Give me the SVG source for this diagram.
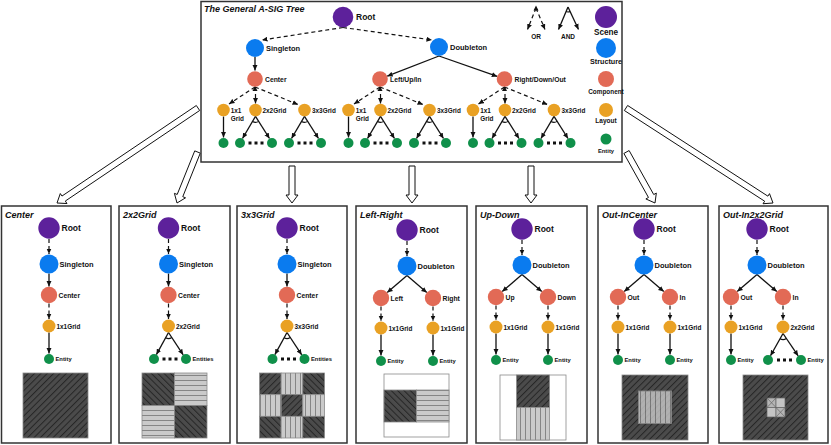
<svg xmlns="http://www.w3.org/2000/svg" width="831" height="445" viewBox="0 0 831 445">
<defs>
<style>
text{font-family:"Liberation Sans",Arial,sans-serif;font-weight:bold;fill:#111}
.t{font-style:italic;font-size:9px}
.box{fill:#fff;stroke:#333;stroke-width:1.5}
.ha{fill:#fff;stroke:#111;stroke-width:1}
.sc{fill:#5d219b}.st{fill:#0a7bef}.co{fill:#e26a56}.la{fill:#e9a124}.en{fill:#10904a}
.d{fill:none;stroke:#111;stroke-width:1.2;stroke-dasharray:4 3;marker-end:url(#ah)}
.s{fill:none;stroke:#111;stroke-width:1.3;marker-end:url(#ah)}
.arc{fill:none;stroke:#111;stroke-width:1.1}
.dots{stroke:#111;stroke-width:3;stroke-dasharray:3 3}
.f85{font-size:8.5px}.f75{font-size:7.5px}.f7{font-size:6.8px}.f65{font-size:6.4px}.f6{font-size:5.8px}
.mid{text-anchor:middle}
.tex{stroke:#8a8a8a;stroke-width:0.8}
</style>
<marker id="ah" viewBox="0 0 6 6" refX="6" refY="3" markerWidth="5.5" markerHeight="5.5" markerUnits="userSpaceOnUse" orient="auto"><path d="M0,0.3 L6,3 L0,5.7 z" fill="#111"/></marker>
<pattern id="pdR" width="4.5" height="4.5" patternUnits="userSpaceOnUse" patternTransform="rotate(45)"><rect width="4.5" height="4.5" fill="#4b4b4b"/><line x1="0.5" y1="0" x2="0.5" y2="4.5" stroke="#262626" stroke-width="1"/></pattern>
<pattern id="pdL" width="4.5" height="4.5" patternUnits="userSpaceOnUse" patternTransform="rotate(-45)"><rect width="4.5" height="4.5" fill="#4b4b4b"/><line x1="0.5" y1="0" x2="0.5" y2="4.5" stroke="#262626" stroke-width="1"/></pattern>
<pattern id="plH" width="6" height="5" patternUnits="userSpaceOnUse"><rect width="6" height="5" fill="#cacaca"/><line x1="0" y1="0.5" x2="6" y2="0.5" stroke="#858585" stroke-width="1"/></pattern>
<pattern id="plV" width="5" height="6" patternUnits="userSpaceOnUse"><rect width="5" height="6" fill="#cacaca"/><line x1="0.5" y1="0" x2="0.5" y2="6" stroke="#858585" stroke-width="1"/></pattern>
</defs>

<g id="hollow-arrows">
<polygon class="ha" points="199.67,110.49 65.32,201.04 66.99,203.54 57,203 60.31,193.56 61.98,196.06 196.33,105.51"/>
<polygon class="ha" points="200.28,153.12 182.77,196.70 185.55,197.82 177,203 174.42,193.34 177.20,194.46 194.72,150.88"/>
<polygon class="ha" points="289,166 289,195 286,195 292,203 298,195 295,195 295,166"/>
<polygon class="ha" points="409,166 409,195 406,195 412,203 418,195 415,195 415,166"/>
<polygon class="ha" points="528,166 528,195 525,195 531,203 537,195 534,195 534,166"/>
<polygon class="ha" points="629.12,150.54 653.72,194.55 656.34,193.09 655,203 645.86,198.95 648.48,197.48 623.88,153.46"/>
<polygon class="ha" points="627.62,105.48 767.89,196.16 769.51,193.63 773,203 763.03,203.73 764.65,201.21 624.38,110.53"/>
</g>

<g id="top-tree">
<rect class="box" x="201" y="1.5" width="421" height="160.5"/>
<text class="t" x="204" y="12">The General A-SIG Tree</text>

<g id="connectors-top">
<path class="d" d="M343,27.5 L262,40"/>
<path class="d" d="M343,27.5 L432,40"/>
<path class="s" d="M255,57 L255,70.5"/>
<path class="s" d="M439,56 L387.2,76.2"/>
<path class="s" d="M439,56 L497.3,76.4"/>
<g transform="translate(255,79)">
<path class="d" d="M0,8 L-26,25"/><path class="d" d="M0.5,8 L0.5,24.5"/><path class="d" d="M0,8 L43,25.5"/>
<polygon points="0,7 -2.5,12 2.5,12" fill="#111"/>
<path class="s" d="M-31.5,37.5 L-31.5,58.5"/>
<path class="s" d="M0.5,37.3 L-12.5,59.5"/><path class="s" d="M0.5,37.3 L14.5,59.5"/><path class="arc" d="M-2.5,42.5 A6,6 0 0 0 3.7,42.4"/>
<path class="dots" d="M-6.5,64 L8.5,64"/>
<path class="s" d="M49.5,37.3 L36.5,59.5"/><path class="s" d="M49.5,37.3 L63.5,59.5"/><path class="arc" d="M46.5,42.5 A6,6 0 0 0 52.7,42.4"/>
<path class="dots" d="M42.5,64 L57.5,64"/>
</g>
<g transform="translate(380,79)">
<path class="d" d="M0,8 L-26,25"/><path class="d" d="M0.5,8 L0.5,24.5"/><path class="d" d="M0,8 L43,25.5"/>
<polygon points="0,7 -2.5,12 2.5,12" fill="#111"/>
<path class="s" d="M-31.5,37.5 L-31.5,58.5"/>
<path class="s" d="M0.5,37.3 L-12.5,59.5"/><path class="s" d="M0.5,37.3 L14.5,59.5"/><path class="arc" d="M-2.5,42.5 A6,6 0 0 0 3.7,42.4"/>
<path class="dots" d="M-6.5,64 L8.5,64"/>
<path class="s" d="M49.5,37.3 L36.5,59.5"/><path class="s" d="M49.5,37.3 L63.5,59.5"/><path class="arc" d="M46.5,42.5 A6,6 0 0 0 52.7,42.4"/>
<path class="dots" d="M42.5,64 L57.5,64"/>
</g>
<g transform="translate(504.5,79)">
<path class="d" d="M0,8 L-26,25"/><path class="d" d="M0.5,8 L0.5,24.5"/><path class="d" d="M0,8 L43,25.5"/>
<polygon points="0,7 -2.5,12 2.5,12" fill="#111"/>
<path class="s" d="M-31.5,37.5 L-31.5,58.5"/>
<path class="s" d="M0.5,37.3 L-12.5,59.5"/><path class="s" d="M0.5,37.3 L14.5,59.5"/><path class="arc" d="M-2.5,42.5 A6,6 0 0 0 3.7,42.4"/>
<path class="dots" d="M-6.5,64 L8.5,64"/>
<path class="s" d="M49.5,37.3 L36.5,59.5"/><path class="s" d="M49.5,37.3 L63.5,59.5"/><path class="arc" d="M46.5,42.5 A6,6 0 0 0 52.7,42.4"/>
<path class="dots" d="M42.5,64 L57.5,64"/>
</g>
<path class="d" d="M536,8 L527.5,29.5"/><path class="d" d="M536,8 L545,29.5"/>
<polygon points="536,5.5 533.5,10.5 538.5,10.5" fill="#111"/>
<path class="s" d="M568,7 L558.5,29.5"/><path class="s" d="M568,7 L578.5,29.5"/>
<path class="arc" d="M566,11.6 A5,5 0 0 0 570.1,11.5"/>
</g>

<g id="n-root"><circle class="sc" cx="343" cy="17" r="10.3"/><text class="f85" x="356" y="20">Root</text></g>
<g id="n-singleton"><circle class="st" cx="255" cy="48" r="9"/><text class="f75" x="266" y="51">Singleton</text></g>
<g id="n-doubleton"><circle class="st" cx="439" cy="47" r="9"/><text class="f75" x="450" y="50">Doubleton</text></g>

<g transform="translate(255,79)">
<g id="n-center"><circle class="co" r="7.8"/><text class="f7" x="10" y="2.5">Center</text></g>
<g id="n-center-1x1"><circle class="la" cx="-31.5" cy="31" r="6.3"/><text class="f65" x="-24.3" y="33.5">1x1</text><text class="f65" x="-24.3" y="41.5">Grid</text></g>
<g id="n-center-2x2"><circle class="la" cx="0.5" cy="31" r="6.3"/><text class="f65" x="7.5" y="33.5">2x2Grid</text></g>
<g id="n-center-3x3"><circle class="la" cx="49.5" cy="31" r="6.3"/><text class="f65" x="57" y="33.5">3x3Grid</text></g>
<g id="n-center-entities"><circle class="en" cx="-31.5" cy="64" r="5"/><circle class="en" cx="-15" cy="64" r="5"/><circle class="en" cx="17" cy="64" r="5"/><circle class="en" cx="34" cy="64" r="5"/><circle class="en" cx="66" cy="64" r="5"/></g>
</g>
<g transform="translate(380,79)">
<g id="n-lui"><circle class="co" r="7.8"/><text class="f7" x="10" y="2.5">Left/Up/In</text></g>
<g id="n-lui-1x1"><circle class="la" cx="-31.5" cy="31" r="6.3"/><text class="f65" x="-24.3" y="33.5">1x1</text><text class="f65" x="-24.3" y="41.5">Grid</text></g>
<g id="n-lui-2x2"><circle class="la" cx="0.5" cy="31" r="6.3"/><text class="f65" x="7.5" y="33.5">2x2Grid</text></g>
<g id="n-lui-3x3"><circle class="la" cx="49.5" cy="31" r="6.3"/><text class="f65" x="57" y="33.5">3x3Grid</text></g>
<g id="n-lui-entities"><circle class="en" cx="-31.5" cy="64" r="5"/><circle class="en" cx="-15" cy="64" r="5"/><circle class="en" cx="17" cy="64" r="5"/><circle class="en" cx="34" cy="64" r="5"/><circle class="en" cx="66" cy="64" r="5"/></g>
</g>
<g transform="translate(504.5,79)">
<g id="n-rdo"><circle class="co" r="7.8"/><text class="f7" x="10" y="2.5">Right/Down/Out</text></g>
<g id="n-rdo-1x1"><circle class="la" cx="-31.5" cy="31" r="6.3"/><text class="f65" x="-24.3" y="33.5">1x1</text><text class="f65" x="-24.3" y="41.5">Grid</text></g>
<g id="n-rdo-2x2"><circle class="la" cx="0.5" cy="31" r="6.3"/><text class="f65" x="7.5" y="33.5">2x2Grid</text></g>
<g id="n-rdo-3x3"><circle class="la" cx="49.5" cy="31" r="6.3"/><text class="f65" x="57" y="33.5">3x3Grid</text></g>
<g id="n-rdo-entities"><circle class="en" cx="-31.5" cy="64" r="5"/><circle class="en" cx="-15" cy="64" r="5"/><circle class="en" cx="17" cy="64" r="5"/><circle class="en" cx="34" cy="64" r="5"/><circle class="en" cx="66" cy="64" r="5"/></g>
</g>

<g id="legend">
<text class="mid" style="font-size:6.5px" x="536" y="38.5">OR</text>
<text class="mid" style="font-size:6.5px" x="568" y="38.5">AND</text>
<circle class="sc" cx="606" cy="17" r="11"/><text class="mid" style="font-size:8.2px" x="606" y="34.5">Scene</text>
<circle class="st" cx="606" cy="48" r="10"/><text class="mid" style="font-size:7.2px" x="606" y="63.5">Structure</text>
<circle class="co" cx="606" cy="79" r="8"/><text class="mid" style="font-size:6.4px" x="606" y="93.5">Component</text>
<circle class="la" cx="606" cy="110" r="7"/><text class="mid" style="font-size:6.5px" x="606" y="122.5">Layout</text>
<circle class="en" cx="606" cy="139" r="5.5"/><text class="mid" style="font-size:5.8px" x="606" y="152.5">Entity</text>
</g>
</g>

<!-- Panel 1 -->
<g id="panel-center">
<rect class="box" x="1.5" y="206" width="109.5" height="237"/>
<text class="t" x="5" y="217.5">Center</text>
<g transform="translate(-1,206)">
<g id="p1-connectors"><path class="d" d="M50,33 L50,48"/><path class="s" d="M50,67.5 L50,80.5"/><path class="d" d="M50,97.5 L50,113"/><path class="s" d="M50,126.5 L50,147.5"/></g>
<g id="p1-root"><circle class="sc" cx="50" cy="22" r="10.7"/><text class="f85" x="62.5" y="25">Root</text></g>
<g id="p1-singleton"><circle class="st" cx="50" cy="58" r="9.5"/><text class="f75" x="60.5" y="61">Singleton</text></g>
<g id="p1-center"><circle class="co" cx="50" cy="89" r="8.2"/><text class="f7" x="59.5" y="91.5">Center</text></g>
<g id="p1-layout"><circle class="la" cx="50" cy="120" r="6.5"/><text class="f65" x="57.5" y="122.5">1x1Grid</text></g>
<g id="p1-entity"><circle class="en" cx="50" cy="153" r="5"/><text class="f6" x="56.5" y="155">Entity</text></g>
</g>
<rect class="tex" x="23" y="373" width="65" height="65" fill="url(#pdR)"/>
</g>

<!-- Panel 2 -->
<g id="panel-2x2">
<rect class="box" x="119" y="206" width="111" height="237"/>
<text class="t" x="123" y="217.5">2x2Grid</text>
<g transform="translate(118.5,206)">
<g id="p2-connectors"><path class="d" d="M50,33 L50,48"/><path class="s" d="M50,67.5 L50,80.5"/><path class="d" d="M50,97.5 L50,113"/>
<path class="s" d="M50,126.5 L37.9,148.6"/><path class="s" d="M50,126.5 L64.7,148.8"/><path class="arc" d="M47.1,131.8 A6,6 0 0 0 53.3,131.5"/><path class="dots" d="M44,153 L59,153"/></g>
<g id="p2-root"><circle class="sc" cx="50" cy="22" r="10.7"/><text class="f85" x="62.5" y="25">Root</text></g>
<g id="p2-singleton"><circle class="st" cx="50" cy="58" r="9.5"/><text class="f75" x="60.5" y="61">Singleton</text></g>
<g id="p2-center"><circle class="co" cx="50" cy="89" r="8.2"/><text class="f7" x="59.5" y="91.5">Center</text></g>
<g id="p2-layout"><circle class="la" cx="50" cy="120" r="6.5"/><text class="f65" x="57.5" y="122.5">2x2Grid</text></g>
<g id="p2-entities"><circle class="en" cx="35.5" cy="153" r="5"/><circle class="en" cx="67.5" cy="153" r="5"/><text class="f6" x="74" y="155">Entities</text></g>
</g>
<rect class="tex" x="142" y="373" width="32.5" height="32.5" fill="url(#pdL)"/>
<rect class="tex" x="174.5" y="373" width="32.5" height="32.5" fill="url(#plH)"/>
<rect class="tex" x="142" y="405.5" width="32.5" height="32.5" fill="url(#plH)"/>
<rect class="tex" x="174.5" y="405.5" width="32.5" height="32.5" fill="url(#pdL)"/>
</g>

<!-- Panel 3 -->
<g id="panel-3x3">
<rect class="box" x="237" y="206" width="110" height="237"/>
<text class="t" x="241" y="217.5">3x3Grid</text>
<g transform="translate(237,206)">
<g id="p3-connectors"><path class="d" d="M50,33 L50,48"/><path class="s" d="M50,67.5 L50,80.5"/><path class="d" d="M50,97.5 L50,113"/>
<path class="s" d="M50,126.5 L37.9,148.6"/><path class="s" d="M50,126.5 L64.7,148.8"/><path class="arc" d="M47.1,131.8 A6,6 0 0 0 53.3,131.5"/><path class="dots" d="M44,153 L59,153"/></g>
<g id="p3-root"><circle class="sc" cx="50" cy="22" r="10.7"/><text class="f85" x="62.5" y="25">Root</text></g>
<g id="p3-singleton"><circle class="st" cx="50" cy="58" r="9.5"/><text class="f75" x="60.5" y="61">Singleton</text></g>
<g id="p3-center"><circle class="co" cx="50" cy="89" r="8.2"/><text class="f7" x="59.5" y="91.5">Center</text></g>
<g id="p3-layout"><circle class="la" cx="50" cy="120" r="6.5"/><text class="f65" x="57.5" y="122.5">3x3Grid</text></g>
<g id="p3-entities"><circle class="en" cx="35.5" cy="153" r="5"/><circle class="en" cx="67.5" cy="153" r="5"/><text class="f6" x="74" y="155">Entities</text></g>
</g>
<rect class="tex" x="259.5" y="373" width="21.67" height="21.67" fill="url(#pdR)"/>
<rect class="tex" x="281.17" y="373" width="21.67" height="21.67" fill="url(#plV)"/>
<rect class="tex" x="302.83" y="373" width="21.67" height="21.67" fill="url(#pdL)"/>
<rect class="tex" x="259.5" y="394.67" width="21.67" height="21.67" fill="url(#plV)"/>
<rect class="tex" x="281.17" y="394.67" width="21.67" height="21.67" fill="url(#pdR)"/>
<rect class="tex" x="302.83" y="394.67" width="21.67" height="21.67" fill="url(#plV)"/>
<rect class="tex" x="259.5" y="416.33" width="21.67" height="21.67" fill="url(#pdL)"/>
<rect class="tex" x="281.17" y="416.33" width="21.67" height="21.67" fill="url(#plV)"/>
<rect class="tex" x="302.83" y="416.33" width="21.67" height="21.67" fill="url(#pdL)"/>
</g>

<!-- Panel 4 -->
<g id="panel-left-right">
<rect class="box" x="356" y="206" width="111" height="237"/>
<text class="t" x="360" y="217.5">Left-Right</text>
<g transform="translate(361,207)">
<g id="p4-connectors"><path class="d" d="M46,34 L46,49"/><path class="s" d="M46,68.5 L26.2,85.6"/><path class="s" d="M46,68.5 L65.8,85.6"/>
<path class="d" d="M20,99.5 L20,114"/><path class="d" d="M72,99.5 L72,114"/><path class="s" d="M20,127.5 L20,148.5"/><path class="s" d="M72,127.5 L72,148.5"/></g>
<g id="p4-root"><circle class="sc" cx="46" cy="23" r="10.7"/><text class="f85" x="58.5" y="26">Root</text></g>
<g id="p4-doubleton"><circle class="st" cx="46" cy="59" r="9.5"/><text class="f75" x="56.5" y="62">Doubleton</text></g>
<g id="p4-left"><circle class="co" cx="20" cy="91" r="8.2"/><text class="f7" x="29.5" y="93.5">Left</text></g>
<g id="p4-right"><circle class="co" cx="72" cy="91" r="8.2"/><text class="f7" x="81.5" y="93.5">Right</text></g>
<g id="p4-layout-l"><circle class="la" cx="20" cy="121" r="6.5"/><text class="f65" x="27.5" y="123.5">1x1Grid</text></g>
<g id="p4-layout-r"><circle class="la" cx="72" cy="121" r="6.5"/><text class="f65" x="79.5" y="123.5">1x1Grid</text></g>
<g id="p4-entity-l"><circle class="en" cx="20" cy="154" r="5"/><text class="f6" x="26.5" y="156">Entity</text></g>
<g id="p4-entity-r"><circle class="en" cx="72" cy="154" r="5"/><text class="f6" x="78.5" y="156">Entity</text></g>
</g>
<rect x="384" y="374" width="65" height="63" fill="#fff" stroke="#8a8a8a" stroke-width="0.8"/>
<rect class="tex" x="384" y="390" width="32.5" height="32" fill="url(#pdL)"/>
<rect class="tex" x="416.5" y="390" width="32.5" height="32" fill="url(#plH)"/>
</g>

<!-- Panel 5 -->
<g id="panel-up-down">
<rect class="box" x="476" y="206" width="111" height="237"/>
<text class="t" x="480" y="217.5">Up-Down</text>
<g transform="translate(476,206)">
<g id="p5-connectors"><path class="d" d="M46,34 L46,49"/><path class="s" d="M46,68.5 L26.2,85.6"/><path class="s" d="M46,68.5 L65.8,85.6"/>
<path class="d" d="M20,99.5 L20,114"/><path class="d" d="M72,99.5 L72,114"/><path class="s" d="M20,127.5 L20,148.5"/><path class="s" d="M72,127.5 L72,148.5"/></g>
<g id="p5-root"><circle class="sc" cx="46" cy="23" r="10.7"/><text class="f85" x="58.5" y="26">Root</text></g>
<g id="p5-doubleton"><circle class="st" cx="46" cy="59" r="9.5"/><text class="f75" x="56.5" y="62">Doubleton</text></g>
<g id="p5-up"><circle class="co" cx="20" cy="91" r="8.2"/><text class="f7" x="29.5" y="93.5">Up</text></g>
<g id="p5-down"><circle class="co" cx="72" cy="91" r="8.2"/><text class="f7" x="81.5" y="93.5">Down</text></g>
<g id="p5-layout-l"><circle class="la" cx="20" cy="121" r="6.5"/><text class="f65" x="27.5" y="123.5">1x1Grid</text></g>
<g id="p5-layout-r"><circle class="la" cx="72" cy="121" r="6.5"/><text class="f65" x="79.5" y="123.5">1x1Grid</text></g>
<g id="p5-entity-l"><circle class="en" cx="20" cy="154" r="5"/><text class="f6" x="26.5" y="156">Entity</text></g>
<g id="p5-entity-r"><circle class="en" cx="72" cy="154" r="5"/><text class="f6" x="78.5" y="156">Entity</text></g>
</g>
<rect x="500" y="375" width="66" height="65" fill="#fff" stroke="#8a8a8a" stroke-width="0.8"/>
<rect class="tex" x="516.5" y="375" width="33" height="32.5" fill="url(#pdR)"/>
<rect class="tex" x="516.5" y="407.5" width="33" height="32.5" fill="url(#plV)"/>
</g>

<!-- Panel 6 -->
<g id="panel-out-in-center">
<rect class="box" x="598" y="206" width="110" height="237"/>
<text class="t" x="602" y="217.5">Out-InCenter</text>
<g transform="translate(598,206)">
<g id="p6-connectors"><path class="d" d="M46,34 L46,49"/><path class="s" d="M46,68.5 L26.2,85.6"/><path class="s" d="M46,68.5 L65.8,85.6"/>
<path class="d" d="M20,99.5 L20,114"/><path class="d" d="M72,99.5 L72,114"/><path class="s" d="M20,127.5 L20,148.5"/><path class="s" d="M72,127.5 L72,148.5"/></g>
<g id="p6-root"><circle class="sc" cx="46" cy="23" r="10.7"/><text class="f85" x="58.5" y="26">Root</text></g>
<g id="p6-doubleton"><circle class="st" cx="46" cy="59" r="9.5"/><text class="f75" x="56.5" y="62">Doubleton</text></g>
<g id="p6-out"><circle class="co" cx="20" cy="91" r="8.2"/><text class="f7" x="29.5" y="93.5">Out</text></g>
<g id="p6-in"><circle class="co" cx="72" cy="91" r="8.2"/><text class="f7" x="81.5" y="93.5">In</text></g>
<g id="p6-layout-l"><circle class="la" cx="20" cy="121" r="6.5"/><text class="f65" x="27.5" y="123.5">1x1Grid</text></g>
<g id="p6-layout-r"><circle class="la" cx="72" cy="121" r="6.5"/><text class="f65" x="79.5" y="123.5">1x1Grid</text></g>
<g id="p6-entity-l"><circle class="en" cx="20" cy="154" r="5"/><text class="f6" x="26.5" y="156">Entity</text></g>
<g id="p6-entity-r"><circle class="en" cx="72" cy="154" r="5"/><text class="f6" x="78.5" y="156">Entity</text></g>
</g>
<rect class="tex" x="622" y="375" width="66" height="65" fill="url(#pdR)"/>
<rect class="tex" x="638.5" y="391" width="33" height="32.5" fill="url(#plV)"/>
<rect x="638.5" y="391" width="33" height="32.5" fill="url(#pdR)" opacity="0.2"/>
</g>

<!-- Panel 7 -->
<g id="panel-out-in-2x2">
<rect class="box" x="719" y="206" width="109" height="237"/>
<text class="t" x="723" y="217.5">Out-In2x2Grid</text>
<g transform="translate(711,206)">
<g id="p7-connectors"><path class="d" d="M46,34 L46,49"/><path class="s" d="M46,68.5 L26.2,85.6"/><path class="s" d="M46,68.5 L65.8,85.6"/>
<path class="d" d="M20,99.5 L20,114"/><path class="d" d="M72,99.5 L72,114"/><path class="s" d="M20,127.5 L20,148.5"/>
<path class="s" d="M72,127.5 L59.5,149.7"/><path class="s" d="M72,127.5 L87.2,149.9"/><path class="arc" d="M69,132.7 A6,6 0 0 0 75.4,132.5"/><path class="dots" d="M66,154 L81,154"/></g>
<g id="p7-root"><circle class="sc" cx="46" cy="23" r="10.7"/><text class="f85" x="58.5" y="26">Root</text></g>
<g id="p7-doubleton"><circle class="st" cx="46" cy="59" r="9.5"/><text class="f75" x="56.5" y="62">Doubleton</text></g>
<g id="p7-out"><circle class="co" cx="20" cy="91" r="8.2"/><text class="f7" x="29.5" y="93.5">Out</text></g>
<g id="p7-in"><circle class="co" cx="72" cy="91" r="8.2"/><text class="f7" x="81.5" y="93.5">In</text></g>
<g id="p7-layout-l"><circle class="la" cx="20" cy="121" r="6.5"/><text class="f65" x="27.5" y="123.5">1x1Grid</text></g>
<g id="p7-layout-r"><circle class="la" cx="72" cy="121" r="6.5"/><text class="f65" x="79.5" y="123.5">2x2Grid</text></g>
<g id="p7-entity-l"><circle class="en" cx="20" cy="154" r="5"/><text class="f6" x="26.5" y="156">Entity</text></g>
<g id="p7-entities-r"><circle class="en" cx="57" cy="154" r="5"/><circle class="en" cx="90" cy="154" r="5"/><text class="f6" x="96.5" y="156">Entity</text></g>
</g>
<rect class="tex" x="743" y="375" width="65" height="65" fill="url(#pdR)"/>
<g stroke="#666" stroke-width="0.7">
<rect x="767" y="398" width="9" height="9.5" fill="#b5b5b5"/>
<rect x="776" y="398" width="9" height="9.5" fill="#c4c4c4"/>
<rect x="767" y="407.5" width="9" height="9.5" fill="#c4c4c4"/>
<rect x="776" y="407.5" width="9" height="9.5" fill="#b5b5b5"/>
<path d="M767,398 L776,407.5 M776,398 L767,407.5 M776,407.5 L785,417 M785,407.5 L776,417" fill="none"/>
</g>
</g>
</svg>
